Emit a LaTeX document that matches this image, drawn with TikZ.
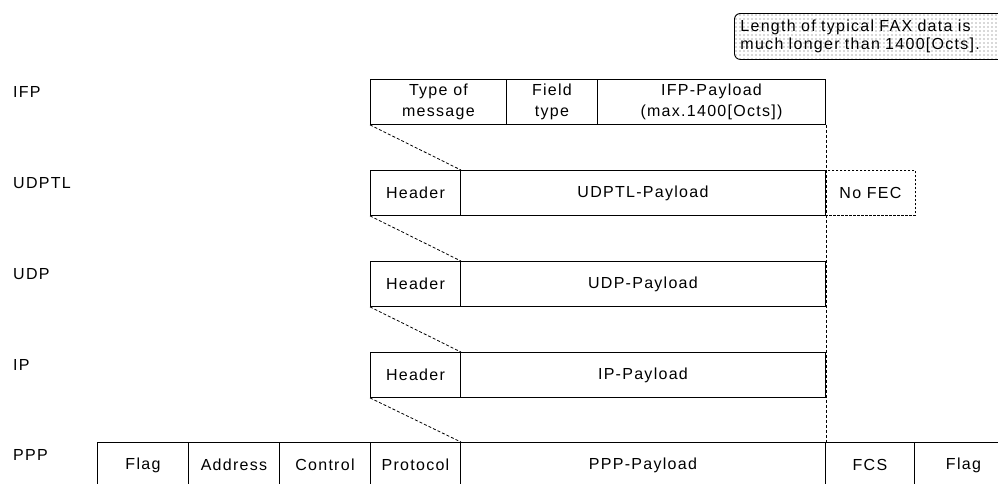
\documentclass[tikz,border=0pt]{standalone}
\usepackage{fontspec}
\setmainfont{Liberation Sans}[LetterSpace=8]
\usetikzlibrary{backgrounds}
\tikzset{cell/.style={draw,line width=0.9pt,minimum height=45pt,inner sep=0pt,
                      anchor=north west,align=center,
                      font=\fontsize{16}{21}\selectfont}}
\tikzset{optcell/.style={cell,dashed,dash pattern=on 2.5pt off 1.5pt}}
\tikzset{layer/.style={anchor=base west,inner sep=0pt,font=\fontsize{16}{21}\selectfont}}
\tikzset{link/.style={line width=0.8pt,dash pattern=on 3pt off 2pt}}
\tikzset{note/.style={draw,line width=0.9pt,rounded corners=6pt,
                      anchor=north west,align=left,
                      text width=280pt,minimum height=46pt,inner xsep=6pt,
                      font=\fontsize{16}{18}\selectfont}}

\begin{document}
\begin{tikzpicture}[x=1pt,y=-1pt]
    \clip (0,0) rectangle (998,483);

    % layer names
    \foreach \lay/\y in {IFP/79,UDPTL/170,UDP/261,IP/352,PPP/442}{
        \node[layer] (n\lay) at (13,\y+18) {\lay};
    }

    % IFP packet
    \node[cell,minimum width=136pt] (tom) at (370,79) {Type of\\message};
    \node[cell,minimum width=91pt] (ftype) at (506,79) {Field\\type};
    \node[cell,minimum width=228pt] (plIFP) at (597,79) {IFP-Payload\\(max.1400[Octs])};

    % UDPTL, UDP, IP packets
    \foreach \lay/\y in {UDPTL/170,UDP/261,IP/352}{
        \node[cell,minimum width=90pt] (h\lay) at (370,\y) {Header};
        \node[cell,minimum width=365pt] (pl\lay) at (460,\y) {\lay-Payload};
    }
    \node[optcell,minimum width=90pt] (nofec) at (825,170) {No FEC};

    % PPP frame
    \node[cell,minimum width=91pt] (flag1) at (97,442) {Flag};
    \node[cell,minimum width=91pt] (addr) at (188,442) {Address};
    \node[cell,minimum width=91pt] (ctrl) at (279,442) {Control};
    \node[cell,minimum width=90pt] (proto) at (370,442) {Protocol};
    \node[cell,minimum width=365pt] (plPPP) at (460,442) {PPP-Payload};
    \node[cell,minimum width=89pt] (fcs) at (825,442) {FCS};
    \node[cell,minimum width=98pt] (flag2) at (914,442) {Flag};

    % encapsulation
    \draw[link] (tom.south west) -- (hUDPTL.north east);
    \draw[link] (hUDPTL.south west) -- (hUDP.north east);
    \draw[link] (hUDP.south west) -- (hIP.north east);
    \draw[link] (hIP.south west) -- (proto.north east);
    \draw[link] (plIFP.south east) -- (plPPP.north east);

    % remark
    \node[note] (fax) at (734,13) {Length of typical FAX data is\\much longer than 1400[Octs].};
    \begin{scope}[on background layer]
      \clip[rounded corners=6pt] (fax.north west) rectangle (fax.south east);
      \foreach \i in {0,...,65}
        \foreach \j in {0,...,11}
          \fill[black!65] (736+4*\i,15+4*\j) circle (0.65);
    \end{scope}
\end{tikzpicture}
\end{document}
